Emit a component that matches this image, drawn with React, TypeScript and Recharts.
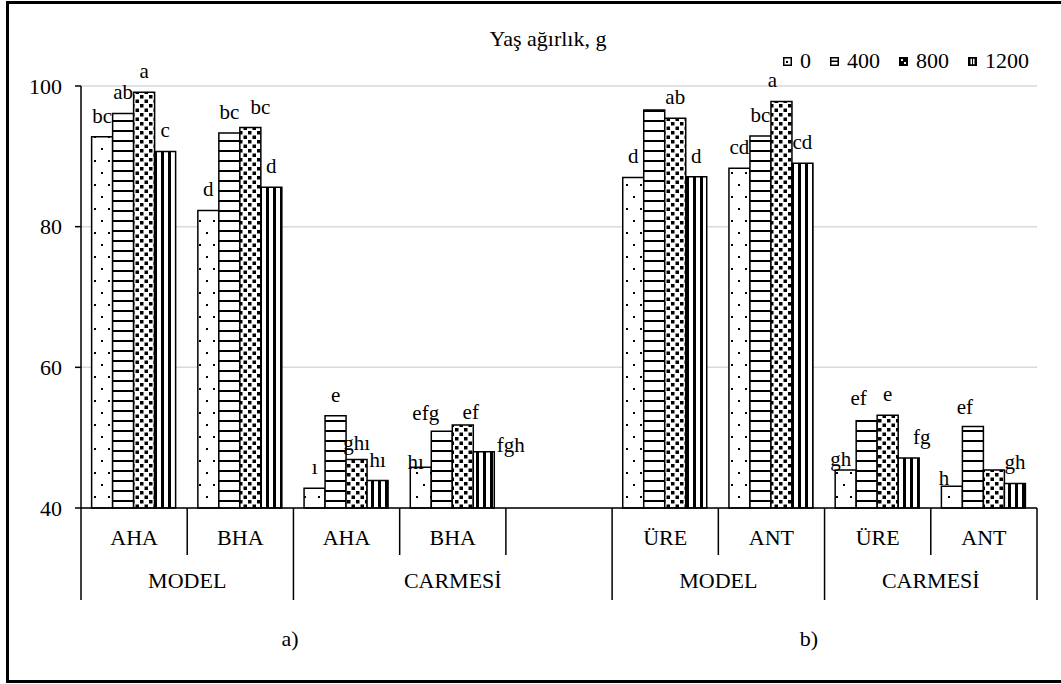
import React from "react";
import {
  Bar,
  BarChart,
  CartesianGrid,
  LabelList,
  Legend,
  XAxis,
  YAxis,
} from "recharts";

const FONT = '"Liberation Serif", "Times New Roman", serif';

// categories along the axis, one empty slot splits panel a) from panel b)
const categories = ["AHA", "BHA", "AHA", "BHA", "", "ÜRE", "ANT", "ÜRE", "ANT"];
const groupNames = ["MODEL", "CARMESİ", "MODEL", "CARMESİ"];
const groupStarts = [0, 2, 5, 7];
const groupSpans = [2, 3, 2, 2];
const panelLabels = ["a)", "b)"];

const doses = ["0", "400", "800", "1200"];
const yTicks = [40, 60, 80, 100];

const values0 = [92.8, 82.3, 42.8, 45.8, null, 87.0, 88.3, 45.4, 43.1];
const values400 = [96.1, 93.3, 53.1, 50.9, null, 96.6, 92.9, 52.4, 51.6];
const values800 = [99.1, 94.1, 46.9, 51.8, null, 95.4, 97.8, 53.2, 45.4];
const values1200 = [90.7, 85.6, 43.9, 48.0, null, 87.1, 89.0, 47.1, 43.5];

const letters0 = ["bc", "d", "ı", "hı", "", "d", "cd", "gh", "h"];
const letters400 = ["ab", "bc", "e", "efg", "", "", "bc", "ef", "ef"];
const letters800 = ["a", "bc", "ghı", "ef", "", "ab", "a", "e", ""];
const letters1200 = ["c", "d", "hı", "fgh", "", "d", "cd", "fg", "gh"];

// hand nudges for labels that were moved off the bar centre in the original
const nudge0: Record<number, [number, number]> = { 3: [-5, 16], 6: [-5, 10], 7: [-8, 13] };
const nudge400: Record<number, [number, number]> = { 3: [-16, 3], 6: [-8, -2], 7: [-8, 2] };
const nudge800: Record<number, [number, number]> = { 1: [10, 1], 2: [0, 5], 3: [8, 8], 5: [-9, 0] };
const nudge1200: Record<number, [number, number]> = { 3: [27, 14], 6: [13, 0], 8: [-4, -4] };

const W = 1061;
const H = 684;
const MARGIN = { top: 86, right: 24, bottom: 76, left: 0 };
const Y_AXIS_W = 81;
const X_AXIS_H = 100;
const BAND = (W - MARGIN.left - MARGIN.right - Y_AXIS_W) / categories.length;

const series = [
  { key: "v0", label: "l0", values: values0, letters: letters0, nudge: nudge0, pat: "pat0" },
  { key: "v400", label: "l400", values: values400, letters: letters400, nudge: nudge400, pat: "pat400" },
  { key: "v800", label: "l800", values: values800, letters: letters800, nudge: nudge800, pat: "pat800" },
  { key: "v1200", label: "l1200", values: values1200, letters: letters1200, nudge: nudge1200, pat: "pat1200" },
];

const rows = categories.map((c, i) => {
  const row: Record<string, string | number | null> = { id: String(i), cat: c };
  series.forEach((s) => {
    row[s.key] = s.values[i];
    row[s.label] = s.letters[i];
  });
  return row;
});

function CategoryTick(props: any) {
  const x = Number(props.x);
  const y = Number(props.y);
  const index: number = props.index ?? props.payload?.index ?? 0;
  const left = x - BAND / 2;
  const gi = groupStarts.indexOf(index);
  const last = index === categories.length - 1;
  return (
    <g>
      <text
        x={x}
        y={y + 37}
        textAnchor="middle"
        fontSize={22}
        fontFamily={FONT}
        fill="#000"
      >
        {categories[index]}
      </text>
      <line
        x1={left}
        x2={left}
        y1={y}
        y2={y + (gi >= 0 ? 92 : 47)}
        stroke="#000"
        strokeWidth={1.5}
      />
      {last && (
        <line x1={x + BAND / 2} x2={x + BAND / 2} y1={y} y2={y + 92} stroke="#000" strokeWidth={1.5} />
      )}
      {gi >= 0 && (
        <text
          x={left + (groupSpans[gi] * BAND) / 2}
          y={y + 80}
          textAnchor="middle"
          fontSize={22}
          fontFamily={FONT}
          fill="#000"
        >
          {groupNames[gi]}
        </text>
      )}
    </g>
  );
}

function makeLetter(nudge: Record<number, [number, number]>) {
  return function Letter(props: any) {
    const text = props.value;
    if (!text) return null;
    const vb = props.viewBox ?? props;
    const x = Number(vb.x);
    const y = Number(vb.y);
    const w = Number(vb.width);
    const h = Number(vb.height);
    if (!isFinite(x) || !isFinite(y)) return null;
    const top = Math.min(y, y + h);
    const [dx, dy] = nudge[props.index] ?? [0, 0];
    return (
      <text
        x={x + w / 2 + dx}
        y={top - 14 + dy}
        textAnchor="middle"
        fontSize={21}
        fontFamily={FONT}
        fill="#000"
      >
        {text}
      </text>
    );
  };
}

function DoseLegend(props: any) {
  const items = [...(props.payload ?? [])].sort(
    (a: any, b: any) => doses.indexOf(String(a.value)) - doses.indexOf(String(b.value))
  );
  return (
    <div
      style={{
        display: "flex",
        alignItems: "center",
        fontFamily: FONT,
        fontSize: 22,
        lineHeight: "24px",
        color: "#000",
        whiteSpace: "nowrap",
      }}
    >
      {items.map((it: any, i: number) => {
        const di = doses.indexOf(String(it.value));
        const pat = series[di >= 0 ? di : i]?.pat;
        return (
          <div key={i} style={{ display: "flex", alignItems: "center", marginRight: 19 }}>
            <svg width={9} height={9} style={{ marginRight: 8, display: "block" }}>
              <rect x={0.75} y={0.75} width={7.5} height={7.5} fill={`url(#${pat}-s)`} stroke="#000" strokeWidth={1.5} />
            </svg>
            <span>{it.value}</span>
          </div>
        );
      })}
    </div>
  );
}

export default function App() {
  return (
    <div
      style={{
        position: "absolute",
        left: 0,
        top: 0,
        width: W,
        height: H,
        overflow: "hidden",
        background: "#fff",
        fontFamily: FONT,
      }}
    >
      <div
        style={{
          position: "absolute",
          left: 6,
          top: 1,
          width: W + 20,
          height: 682,
          border: "3px solid #000",
          boxSizing: "border-box",
        }}
      />
      <div
        style={{
          position: "absolute",
          left: 448,
          top: 26,
          width: 200,
          textAlign: "center",
          fontSize: 22,
          lineHeight: "26px",
          whiteSpace: "nowrap",
        }}
      >
        Yaş ağırlık, g
      </div>
      {panelLabels.map((p, i) => (
        <div
          key={p}
          style={{
            position: "absolute",
            left: (i === 0 ? 290 : 809) - 30,
            top: 626,
            width: 60,
            textAlign: "center",
            fontSize: 22,
            lineHeight: "26px",
          }}
        >
          {p}
        </div>
      ))}
      <div style={{ position: "absolute", left: 0, top: 0 }}>
        <BarChart
          width={W}
          height={H}
          data={rows}
          margin={MARGIN}
          barCategoryGap="10%"
          barGap={0}
        >
          <defs>
            <pattern id="pat0" width="14" height="24" patternUnits="userSpaceOnUse">
              <rect width="14" height="24" fill="#fff" />
              <rect x="3" y="4" width="2" height="2" fill="#000" />
              <rect x="10" y="16" width="2" height="2" fill="#000" />
            </pattern>
            <pattern id="pat400" width="10" height="10" patternUnits="userSpaceOnUse">
              <rect width="10" height="10" fill="#fff" />
              <rect x="0" y="0" width="10" height="2" fill="#000" />
            </pattern>
            <pattern id="pat800" width="9" height="9" patternUnits="userSpaceOnUse">
              <rect width="9" height="9" fill="#fff" />
              <rect x="0.5" y="0.5" width="3.5" height="3.5" fill="#000" />
              <rect x="5" y="5" width="3.5" height="3.5" fill="#000" />
            </pattern>
            <pattern id="pat1200" width="7" height="10" patternUnits="userSpaceOnUse">
              <rect width="7" height="10" fill="#fff" />
              <rect x="0" y="0" width="3" height="10" fill="#000" />
            </pattern>
            <pattern id="pat0-s" width="9" height="9" patternUnits="userSpaceOnUse">
              <rect width="9" height="9" fill="#fff" />
              <rect x="3" y="4" width="2" height="2" fill="#000" />
            </pattern>
            <pattern id="pat400-s" width="9" height="9" patternUnits="userSpaceOnUse">
              <rect width="9" height="9" fill="#fff" />
              <rect x="0" y="3.5" width="9" height="1.5" fill="#000" />
            </pattern>
            <pattern id="pat800-s" width="9" height="9" patternUnits="userSpaceOnUse">
              <rect width="9" height="9" fill="#000" />
              <rect x="2" y="2" width="2" height="2" fill="#fff" />
              <rect x="5" y="5" width="2" height="2" fill="#fff" />
            </pattern>
            <pattern id="pat1200-s" width="9" height="9" patternUnits="userSpaceOnUse">
              <rect width="9" height="9" fill="#000" />
              <rect x="2.5" y="1.5" width="1.5" height="6" fill="#fff" />
              <rect x="5" y="1.5" width="1.5" height="6" fill="#fff" />
            </pattern>
          </defs>
          <CartesianGrid vertical={false} stroke="#d9d9d9" strokeWidth={1.5} />
          <XAxis
            dataKey="id"
            type="category"
            interval={0}
            height={X_AXIS_H}
            tickLine={false}
            tickSize={0}
            tickMargin={0}
            axisLine={{ stroke: "#000", strokeWidth: 1.5 }}
            tick={<CategoryTick />}
          />
          <YAxis
            type="number"
            domain={[40, 100]}
            ticks={yTicks}
            width={Y_AXIS_W}
            tickSize={6}
            tickMargin={13}
            axisLine={{ stroke: "#000", strokeWidth: 1.5 }}
            tickLine={{ stroke: "#000", strokeWidth: 1.5 }}
            tick={{ fill: "#000", fontSize: 22, fontFamily: FONT }}
          />
          <Legend
            verticalAlign="middle"
            align="center"
            content={<DoseLegend />}
            wrapperStyle={{ top: 49, left: 783, width: "auto", height: "auto" }}
          />
          {series.map((s, i) => (
            <Bar
              key={s.key}
              dataKey={s.key}
              name={doses[i]}
              fill={`url(#${s.pat})`}
              stroke="#000"
              strokeWidth={1.5}
              isAnimationActive={false}
            >
              <LabelList dataKey={s.label} content={makeLetter(s.nudge)} />
            </Bar>
          ))}
        </BarChart>
      </div>
    </div>
  );
}
